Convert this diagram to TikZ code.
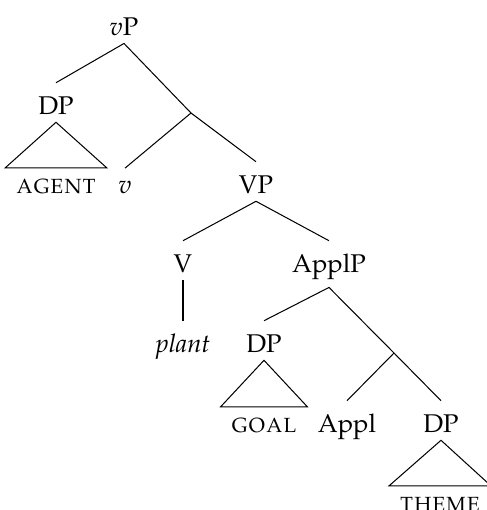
\documentclass[tikz,border=0pt]{standalone}
\usepackage[T1]{fontenc}
\usepackage{mathpazo}
\usepackage{tikz}
\usetikzlibrary{positioning}
\tikzset{
  cat/.style={anchor=base, inner sep=3pt, text height=9pt},
  leaf/.style={anchor=base, inner xsep=4pt, inner ysep=4pt, font=\scshape},
}
\begin{document}
\begin{tikzpicture}[x=0.39pt, y=-0.39pt]
    \useasboundingbox (0,0) rectangle (487,510);
    \node[cat] (vP) at (124,35) {$v$P};
    \node[cat] (dpA) at (56,114) {DP};
    \coordinate (vbar) at (191,113);
    \node[leaf] (agent) at (56,193) {agent};
    \node[cat, text height=6.5pt] (v) at (125,193) {$v$};
    \node[cat] (VP) at (256,193) {VP};
    \node[cat] (V) at (183,272) {V};
    \node[cat] (ApplP) at (329,272) {ApplP};
    \node[cat] (plant) at (183,352) {\textit{plant}};
    \node[cat] (dpG) at (264,352) {DP};
    \coordinate (applbar) at (394,353);
    \node[leaf] (goal) at (264,432) {goal};
    \node[cat] (Appl) at (347,432) {Appl};
    \node[cat] (dpT) at (441,432) {DP};
    \node[leaf] (theme) at (440,511) {theme};
    \draw (vP.south) -- (dpA.north);
    \draw (vP.south) -- (vbar);
    \draw (vbar) -- (v.north);
    \draw (vbar) -- (VP.north);
    \draw (VP.south) -- (V.north);
    \draw (VP.south) -- (ApplP.north);
    \draw (V.south) -- (plant.north);
    \draw (ApplP.south) -- (dpG.north);
    \draw (ApplP.south) -- (applbar);
    \draw (applbar) -- (Appl.north);
    \draw (applbar) -- (dpT.north);
    \draw (dpA.south) -- (agent.north west) -- (agent.north east) -- cycle;
    \draw (dpG.south) -- (goal.north west) -- (goal.north east) -- cycle;
    \draw (dpT.south) -- (theme.north west) -- (theme.north east) -- cycle;
\end{tikzpicture}
\end{document}
